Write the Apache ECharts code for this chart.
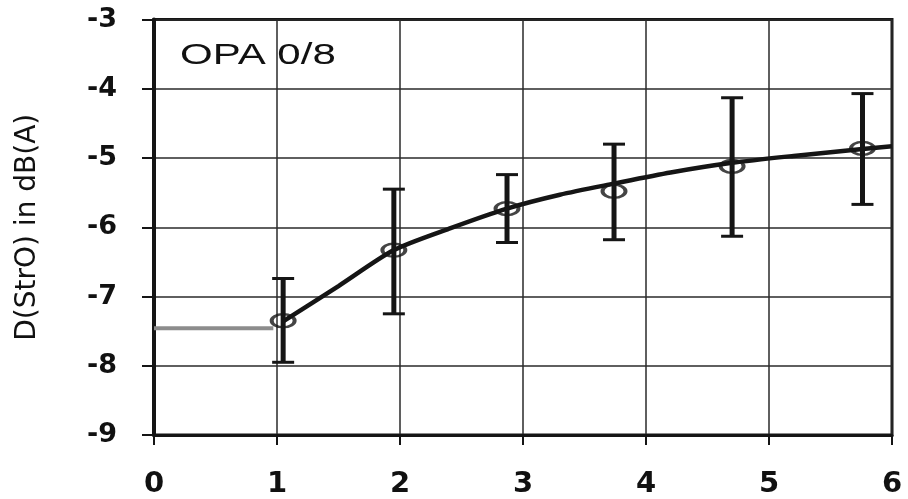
<!DOCTYPE html>
<html>
<head>
<meta charset="utf-8">
<script src="https://cdn.jsdelivr.net/npm/echarts@6/dist/echarts.min.js"></script>
<style>
html,body{margin:0;padding:0;background:#fff;}
#chart{width:908px;height:499px;}
</style>
</head>
<body>
<div id="chart"></div>
<script>
// measured points (x, mean, upper, lower)
var pointX    = [1.05, 1.95, 2.87, 3.74, 4.70, 5.76];
var pointY    = [-7.35, -6.33, -5.73, -5.48, -5.12, -4.86];
var errHigh   = [-6.74, -5.45, -5.24, -4.80, -4.13, -4.07];
var errLow    = [-7.95, -7.25, -6.22, -6.18, -6.13, -5.67];
// fitted curve
var curveX    = [1.05, 1.5, 1.95, 2.4, 2.87, 3.3, 3.74, 4.2, 4.7, 5.2, 5.76, 6.0];
var curveY    = [-7.36, -6.85, -6.33, -6.02, -5.73, -5.53, -5.37, -5.21, -5.07, -4.97, -4.87, -4.83];
// reference level (grey line)
var refX      = [0, 0.97];
var refY      = [-7.46, -7.46];
// axes
var xTicks    = [0, 1, 2, 3, 4, 5, 6];
var yTicks    = [-9, -8, -7, -6, -5, -4, -3];
var yTitle    = 'D(StrO) in dB(A)';
var panelLabel = 'OPA 0/8';

var chart = echarts.init(document.getElementById('chart'), null, {renderer: 'canvas'});

var pts = pointX.map(function (x, i) { return [x, pointY[i]]; });
var errs = pointX.map(function (x, i) { return [x, errLow[i], errHigh[i]]; });
var curve = curveX.map(function (x, i) { return [x, curveY[i]]; });
var ref = refX.map(function (x, i) { return [x, refY[i]]; });

var ink = '#151515';

chart.setOption({
  backgroundColor: '#ffffff',
  animation: false,
  grid: {left: 154, right: 16, top: 19.5, bottom: 63, show: true,
         borderColor: ink, borderWidth: 3, backgroundColor: 'transparent'},
  xAxis: {
    type: 'value', min: xTicks[0], max: xTicks[xTicks.length - 1], interval: 1,
    axisLine: {show: true, onZero: false, lineStyle: {color: ink, width: 3}},
    axisTick: {show: true, length: 10, lineStyle: {color: ink, width: 2}},
    axisLabel: {margin: 35, color: '#111', fontFamily: 'DejaVu Sans', fontWeight: 'bold', fontSize: 29},
    splitLine: {show: true, lineStyle: {color: '#2a2a2a', width: 1.5}}
  },
  yAxis: {
    type: 'value', min: yTicks[0], max: yTicks[yTicks.length - 1], interval: 1,
    name: yTitle, nameLocation: 'middle', nameGap: 112,
    nameTextStyle: {color: '#111', fontFamily: 'DejaVu Sans', fontSize: 28},
    axisLine: {show: true, onZero: false, lineStyle: {color: ink, width: 4}},
    axisTick: {show: true, length: 12, lineStyle: {color: ink, width: 2}},
    axisLabel: {margin: 37, color: '#111', fontFamily: 'DejaVu Sans', fontWeight: 'bold', fontSize: 27},
    splitLine: {show: true, lineStyle: {color: '#2a2a2a', width: 1.5}}
  },
  graphic: [{
    type: 'text', x: 180, y: 56, scaleX: 1.45, z: 10,
    style: {text: panelLabel, font: '29px "Liberation Sans"', fill: '#111', verticalAlign: 'middle', align: 'left'}
  }],
  series: [
    {
      type: 'line', data: ref, symbol: 'none', z: 2,
      lineStyle: {color: '#8c8c8c', width: 4}
    },
    {
      type: 'line', data: curve, symbol: 'none', smooth: 0.25, z: 3,
      lineStyle: {color: ink, width: 4.5}
    },
    {
      type: 'custom', data: errs, z: 4,
      renderItem: function (params, api) {
        var x = api.value(0);
        var lo = api.coord([x, api.value(1)]);
        var hi = api.coord([x, api.value(2)]);
        var cap = 11;
        return {
          type: 'group',
          children: [
            {type: 'line', shape: {x1: lo[0], y1: lo[1], x2: hi[0], y2: hi[1]},
             style: {stroke: ink, lineWidth: 5}},
            {type: 'line', shape: {x1: lo[0] - cap, y1: lo[1], x2: lo[0] + cap, y2: lo[1]},
             style: {stroke: ink, lineWidth: 3}},
            {type: 'line', shape: {x1: hi[0] - cap, y1: hi[1], x2: hi[0] + cap, y2: hi[1]},
             style: {stroke: ink, lineWidth: 3}}
          ]
        };
      }
    },
    {
      type: 'scatter', data: pts, symbol: 'circle', symbolSize: [23, 13], z: 5,
      itemStyle: {color: 'rgba(0,0,0,0)', borderColor: ink, borderWidth: 3}
    }
  ]
});
</script>
</body>
</html>
